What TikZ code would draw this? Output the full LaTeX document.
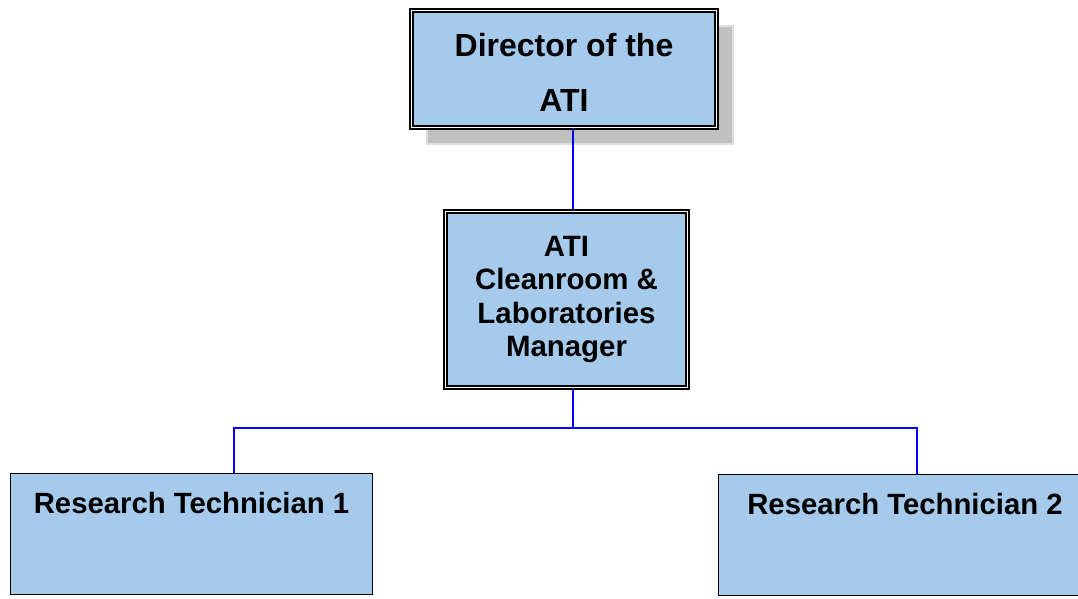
\documentclass[tikz,border=0pt]{standalone}
\usepackage{fontspec}
\setmainfont{Liberation Sans}
\usetikzlibrary{backgrounds}
\definecolor{postblue}{RGB}{166,202,236}
\definecolor{shadowgray}{RGB}{192,192,192}
\definecolor{shadowedge}{RGB}{222,222,222}

\begin{document}
\begin{tikzpicture}[x=1pt, y=-1pt,
post/.style={fill=postblue, font=\bfseries, align=center, inner sep=0pt},
framed/.style={post, draw=black, double=white, line width=1.8pt, double distance=1.2pt},
plainpost/.style={post, draw=black, line width=1.4pt, text height=40pt, text depth=81pt},
link/.style={draw=blue, line width=1.6pt},
shadowbox/.style={fill=shadowgray, draw=shadowedge, line width=2pt}
]
\useasboundingbox (0,0) rectangle (1078,598);
\clip (0,0) rectangle (1078,598);

\node[framed, minimum width=305pt, minimum height=117pt, text height=84pt, text depth=0pt,
      font=\bfseries\fontsize{32}{55}\selectfont] (director) at (564,69) {Director of the\\ATI};
\node[framed, minimum width=242pt, minimum height=176pt,
      font=\bfseries\fontsize{29.4}{33.5}\selectfont] (manager) at (566.5,299.5)
  {ATI\\Cleanroom \&\\Laboratories\\Manager};
\node[plainpost, minimum width=362pt, font=\bfseries\fontsize{29.3}{33.5}\selectfont]
  (tech1) at (191.5,534) {Research Technician 1};
\node[plainpost, minimum width=373pt, font=\bfseries\fontsize{29.3}{33.5}\selectfont]
  (tech2) at (905,535) {Research Technician 2};

\coordinate (hub) at (573,428);
\coordinate (drop1) at (234,428);
\coordinate (drop2) at (917,428);

\begin{scope}[on background layer]
% shadow behind the director
\draw[shadowbox] ([shift={(16,16)}]director.north west) rectangle ([shift={(16,16)}]director.south east);
\draw[link] (director.south -| hub) -- (manager.north -| hub);
\draw[link] (manager.south -| hub) -- (hub);
\draw[link] (tech1.north -| drop1) -- (drop1) -- (drop2) -- (tech2.north -| drop2);
\end{scope}
\end{tikzpicture}
\end{document}
